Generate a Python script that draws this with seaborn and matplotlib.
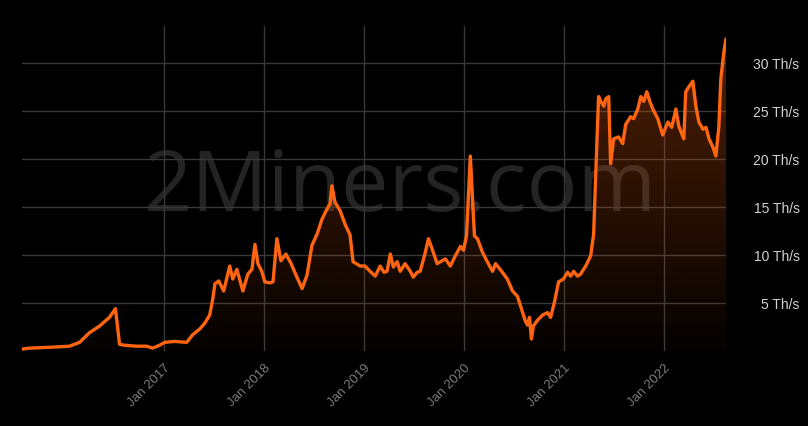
import matplotlib
matplotlib.use("Agg")
import matplotlib.pyplot as plt
import matplotlib.dates as mdates
from matplotlib.patches import PathPatch
import seaborn as sns
import pandas as pd
import numpy as np

# valori (hashrate in Th/s)
dates = [
    "2015-08-03", "2015-08-30", "2015-11-22", "2016-01-23", "2016-02-29", "2016-04-05",
    "2016-05-12", "2016-06-17", "2016-07-09", "2016-07-24", "2016-08-11", "2016-09-24",
    "2016-10-31", "2016-11-22", "2016-12-17", "2017-01-05", "2017-02-10", "2017-03-26",
    "2017-04-17", "2017-05-13", "2017-05-31", "2017-06-18", "2017-06-29", "2017-07-07",
    "2017-07-21", "2017-08-08", "2017-08-30", "2017-09-10", "2017-09-25", "2017-10-17",
    "2017-11-04", "2017-11-19", "2017-11-30", "2017-12-11", "2017-12-25", "2018-01-05",
    "2018-01-24", "2018-02-04", "2018-02-18", "2018-03-05", "2018-03-23", "2018-04-11",
    "2018-04-29", "2018-05-21", "2018-06-08", "2018-06-26", "2018-07-15", "2018-08-02",
    "2018-08-20", "2018-08-31", "2018-09-07", "2018-09-18", "2018-10-07", "2018-10-25",
    "2018-11-12", "2018-11-23", "2018-12-19", "2019-01-06", "2019-01-24", "2019-02-12",
    "2019-03-02", "2019-03-16", "2019-03-27", "2019-04-08", "2019-04-19", "2019-05-03",
    "2019-05-14", "2019-06-01", "2019-06-20", "2019-07-01", "2019-07-15", "2019-07-26",
    "2019-08-14", "2019-08-25", "2019-09-08", "2019-09-26", "2019-10-08", "2019-10-26",
    "2019-11-13", "2019-12-01", "2019-12-20", "2019-12-31", "2020-01-11", "2020-01-25",
    "2020-02-09", "2020-02-20", "2020-03-09", "2020-03-27", "2020-04-15", "2020-04-26",
    "2020-05-21", "2020-06-08", "2020-06-27", "2020-07-15", "2020-08-02", "2020-08-13",
    "2020-08-21", "2020-08-28", "2020-09-04", "2020-09-11", "2020-09-26", "2020-10-15",
    "2020-11-02", "2020-11-13", "2020-11-27", "2020-12-12", "2020-12-30", "2021-01-14",
    "2021-01-25", "2021-02-05", "2021-02-19", "2021-03-02", "2021-03-21", "2021-04-08",
    "2021-04-19", "2021-04-26", "2021-05-07", "2021-05-15", "2021-05-26", "2021-06-02",
    "2021-06-13", "2021-06-20", "2021-07-01", "2021-07-19", "2021-08-03", "2021-08-14",
    "2021-09-01", "2021-09-12", "2021-09-27", "2021-10-08", "2021-10-19", "2021-10-30",
    "2021-11-10", "2021-11-21", "2021-12-09", "2021-12-27", "2022-01-15", "2022-01-29",
    "2022-02-13", "2022-02-24", "2022-03-14", "2022-03-21", "2022-04-01", "2022-04-16",
    "2022-04-27", "2022-05-08", "2022-05-23", "2022-06-03", "2022-06-14", "2022-06-28",
    "2022-07-09", "2022-07-20", "2022-07-27", "2022-08-07", "2022-08-15",
]
hashrate = [
    0.2, 0.3, 0.4, 0.5, 0.9, 1.9,
    2.6, 3.5, 4.4, 0.7, 0.6, 0.5,
    0.5, 0.3, 0.6, 0.9, 1.0, 0.9,
    1.7, 2.3, 2.9, 3.75, 5.4, 7.0,
    7.3, 6.25, 8.85, 7.5, 8.5, 6.25,
    8.0, 8.5, 11.1, 9.1, 8.3, 7.2,
    7.1, 7.2, 11.7, 9.4, 10.1, 9.1,
    7.9, 6.5, 7.9, 11.0, 12.2, 13.75,
    14.8, 15.3, 17.2, 15.5, 14.6, 13.2,
    12.1, 9.3, 8.85, 8.85, 8.3, 7.8,
    8.85, 8.2, 8.3, 10.1, 8.75, 9.3,
    8.3, 9.1, 8.3, 7.7, 8.2, 8.3,
    10.3, 11.7, 10.6, 9.1, 9.3, 9.6,
    8.85, 9.9, 10.9, 10.5, 12.0, 20.3,
    12.0, 11.7, 10.3, 9.3, 8.3, 9.1,
    8.2, 7.5, 6.25, 5.7, 4.1, 3.1,
    2.7, 3.5, 1.25, 2.6, 3.2, 3.75,
    4.0, 3.5, 5.1, 7.2, 7.5, 8.2,
    7.8, 8.3, 7.8, 8.0, 8.85, 9.9,
    12.2, 17.9, 26.5, 26.0, 25.5, 26.25,
    26.5, 19.5, 22.1, 22.3, 21.6, 23.6,
    24.4, 24.2, 25.2, 26.5, 26.0, 27.0,
    26.0, 25.2, 24.2, 22.5, 23.85, 23.3,
    25.2, 23.4, 22.1, 27.0, 27.5, 28.1,
    25.5, 23.85, 23.1, 23.3, 22.1, 21.25,
    20.3, 23.4, 28.3, 31.1, 32.5,
]

year_ticks = ["2017-01-01", "2018-01-01", "2019-01-01", "2020-01-01", "2021-01-01", "2022-01-01"]
year_labels = ["Jan 2017", "Jan 2018", "Jan 2019", "Jan 2020", "Jan 2021", "Jan 2022"]
y_ticks = [5, 10, 15, 20, 25, 30]
y_labels = ["5 Th/s", "10 Th/s", "15 Th/s", "20 Th/s", "25 Th/s", "30 Th/s"]

df = pd.DataFrame({"date": pd.to_datetime(dates), "hashrate": hashrate})

sns.set_theme(style="dark")
plt.rcParams["font.family"] = ["Liberation Sans", "DejaVu Sans"]

line_color = "#ff6410"
ymax = 33.85

fig = plt.figure(figsize=(8.08, 4.27), dpi=100, facecolor="black")
ax = fig.add_axes([22 / 808, 1 - 352 / 427, 704 / 808, 325 / 427])
ax.set_facecolor("black")

# watermark
ax.text(0.537, 0.50, "2Miners.com", transform=ax.transAxes, ha="center", va="center",
        fontsize=61, color="#242424", family="Open Sans", zorder=0)

# riempimento sfumato sotto la linea
poly = ax.fill_between(df["date"], df["hashrate"], 0, facecolor="none", edgecolor="none")
clip = PathPatch(poly.get_paths()[0], transform=ax.transData, facecolor="none", edgecolor="none")
ax.add_patch(clip)
x0 = mdates.date2num(df["date"].iloc[0])
x1 = mdates.date2num(df["date"].iloc[-1])
grad = np.zeros((256, 1, 4))
grad[..., :3] = matplotlib.colors.to_rgb(line_color)
grad[:, 0, 3] = np.linspace(0.33, 0.02, 256)
im = ax.imshow(grad, extent=[x0, x1, 0, ymax], aspect="auto", origin="upper", zorder=1)
im.set_clip_path(clip)

sns.lineplot(data=df, x="date", y="hashrate", color=line_color, linewidth=2.4, ax=ax, zorder=3)

ax.set_xlim(df["date"].iloc[0], df["date"].iloc[-1])
ax.set_ylim(0, ymax)

ax.grid(True, color="#383838", linewidth=1)
ax.set_axisbelow(True)
for s in ax.spines.values():
    s.set_visible(False)

ax.set_xticks(pd.to_datetime(year_ticks))
ax.set_xticklabels(year_labels, rotation=45, ha="right", rotation_mode="anchor")
ax.tick_params(axis="x", length=0, pad=7, labelcolor="#7c7c7c", labelsize=9.5)

ax.yaxis.tick_right()
ax.set_yticks(y_ticks)
ax.set_yticklabels(y_labels, ha="right")
ax.tick_params(axis="y", length=0, pad=53, labelcolor="#d2d2d2", labelsize=10)

ax.set_xlabel("")
ax.set_ylabel("")

fig.savefig("out.png", dpi=100, facecolor="black")
